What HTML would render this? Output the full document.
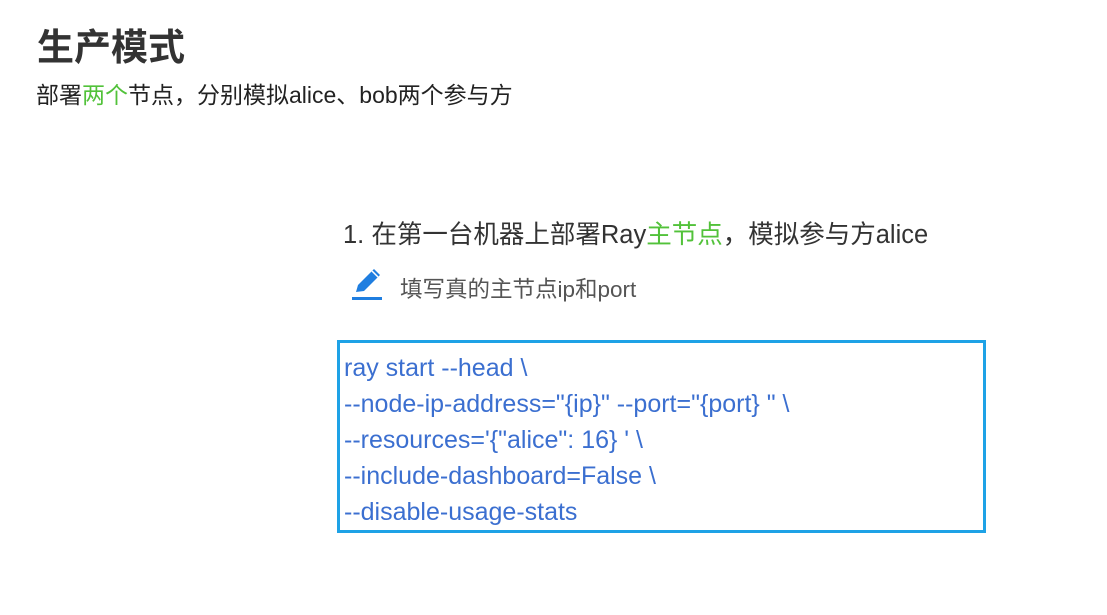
<!DOCTYPE html>
<html><head><meta charset="utf-8"><style>
body{margin:0;width:1107px;height:615px;background:#fff;position:relative;overflow:hidden;font-family:"Liberation Sans","Noto Sans CJK SC",sans-serif;}
.a{position:absolute;white-space:nowrap;}
.g{color:#52c23a;}
</style></head><body>
<div class="a" style="left:37px;top:17px;font-size:37px;font-weight:bold;color:#333;">生产模式</div>
<div class="a" style="left:36px;top:76px;font-size:23px;color:#222;">部署<span class="g">两个</span>节点，分别模拟alice、bob两个参与方</div>
<div class="a" style="left:343px;top:214px;font-size:25.5px;color:#333;">1. 在第一台机器上部署Ray<span class="g">主节点</span>，模拟参与方alice</div>
<svg class="a" style="left:350px;top:266px" width="36" height="36" viewBox="0 0 36 36">
<path d="M6 26 L8 19 L24 3 L30 9 L14 25 Z" fill="#1f7ee0"/>
<path d="M22 5 L28 11" stroke="#fff" stroke-width="1.5"/>
<rect x="2" y="31" width="30" height="3" fill="#1f7ee0"/>
</svg>
<div class="a" style="left:400px;top:272px;font-size:22.5px;color:#555;">填写真的主节点ip和port</div>
<div class="a" style="left:337px;top:340px;width:643px;height:187px;border:3px solid #1ea2e6;"></div>
<div class="a" style="left:344px;top:350px;font-size:25px;line-height:36px;color:#3b6fd0;">ray start --head \<br>--node-ip-address="{ip}" --port="{port} " \<br>--resources='{"alice": 16} ' \<br>--include-dashboard=False \<br>--disable-usage-stats</div>
</body></html>
